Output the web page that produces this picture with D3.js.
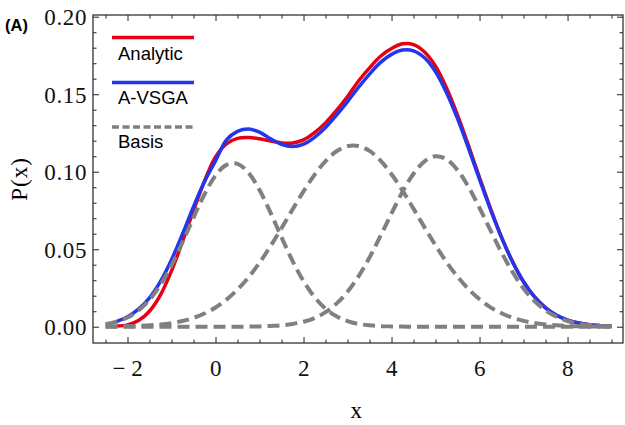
<!DOCTYPE html>
<html>
<head>
<meta charset="utf-8">
<script src="https://cdn.jsdelivr.net/npm/d3@7"></script>
<style>
  html, body { margin: 0; padding: 0; background: #fff; }
  svg { display: block; }
  .tick text { font-family: "Liberation Serif", "DejaVu Serif", serif; letter-spacing: 0.6px; }
</style>
</head>
<body>
<div id="chart"></div>
<script>
//
// DATA
//
// shared x grid, step 0.25
const xGrid = [-2.5, -2.25, -2, -1.75, -1.5, -1.25, -1, -0.75, -0.5, -0.25,
    0, 0.25, 0.5, 0.75, 1, 1.25, 1.5, 1.75, 2, 2.25, 2.5, 2.75, 3, 3.25, 3.5, 3.75,
    4, 4.25, 4.5, 4.75, 5, 5.25, 5.5, 5.75, 6, 6.25, 6.5, 6.75, 7, 7.25, 7.5, 7.75,
    8, 8.25, 8.5, 8.75, 9]

// analytic curve (red), starts at x = -2.25
const analytic = [null, 0.0005, 0.0012, 0.0040, 0.0100, 0.0205, 0.0360, 0.0550, 0.0750, 0.0940,
    0.1095, 0.1180, 0.1215, 0.1220, 0.1212, 0.1198, 0.1186, 0.1185, 0.1205, 0.1252, 0.1315, 0.1395,
    0.1485, 0.1585, 0.1670, 0.1745, 0.1795, 0.1825, 0.1820, 0.1772, 0.1680, 0.1540, 0.1365, 0.1168,
    0.0962, 0.0762, 0.0578, 0.0420, 0.0290, 0.0192, 0.0122, 0.0074, 0.0043, 0.0024, 0.0013, 0.0007, 0.0003]

// A-VSGA fit (blue)
const avsga = [null, 0.0033, 0.0064, 0.0113, 0.0186, 0.0292, 0.0432, 0.0598, 0.0775, 0.0935,
    0.1070, 0.1205, 0.1260, 0.1275, 0.1255, 0.1212, 0.1176, 0.1162, 0.1178, 0.1222, 0.1285, 0.1365,
    0.1452, 0.1545, 0.1630, 0.1705, 0.1757, 0.1785, 0.1780, 0.1735, 0.1645, 0.1510, 0.1342, 0.1150,
    0.0950, 0.0755, 0.0575, 0.0418, 0.0290, 0.0192, 0.0122, 0.0074, 0.0043, 0.0024, 0.0013, 0.0007, 0.0003]

// the three basis functions (grey dashed)
const basis1 = [0.0016, 0.0032, 0.0059, 0.0105, 0.0174, 0.0271, 0.0396, 0.0545, 0.0704, 0.0855,
    0.0975, 0.1044, 0.1051, 0.0993, 0.0882, 0.0736, 0.0577, 0.0425, 0.0294, 0.0191, 0.0117, 0.0067,
    0.0036, 0.0018, 0.0009, 0.0004, 0.0002, 0.0001, 0, 0, 0, 0, 0, 0,
    0, 0, 0, 0, 0, 0, 0, 0, 0, 0, 0, 0, 0]
const basis2 = [0.0001, 0.0002, 0.0003, 0.0005, 0.0009, 0.0014, 0.0023, 0.0037, 0.0057, 0.0085,
    0.0124, 0.0175, 0.0240, 0.0319, 0.0413, 0.0520, 0.0636, 0.0756, 0.0873, 0.0980, 0.1068, 0.1132,
    0.1165, 0.1166, 0.1134, 0.1071, 0.0984, 0.0878, 0.0761, 0.0641, 0.0525, 0.0417, 0.0323, 0.0242,
    0.0177, 0.0125, 0.0087, 0.0058, 0.0038, 0.0024, 0.0015, 0.0009, 0.0005, 0.0003, 0.0002, 0.0001, 0]
const basis3 = [0, 0, 0, 0, 0, 0, 0, 0, 0, 0,
    0, 0, 0, 0.0001, 0.0002, 0.0005, 0.0009, 0.0018, 0.0032, 0.0056, 0.0094, 0.0149,
    0.0225, 0.0325, 0.0447, 0.0586, 0.0731, 0.0871, 0.0987, 0.1067, 0.1100, 0.1080, 0.1010, 0.0901,
    0.0766, 0.0621, 0.0479, 0.0353, 0.0247, 0.0165, 0.0105, 0.0064, 0.0037, 0.0020, 0.0011, 0.0005, 0.0003]

// ticks
const xMajor = [-2, 0, 2, 4, 6, 8]
const xMinor = [-2.5, -1.5, -1, -0.5, 0.5, 1, 1.5, 2.5, 3, 3.5, 4.5, 5, 5.5, 6.5, 7, 7.5, 8.5, 9]
const yMajor = [0, 0.05, 0.1, 0.15, 0.2]
const yMinor = [0.01, 0.02, 0.03, 0.04, 0.06, 0.07, 0.08, 0.09, 0.11, 0.12, 0.13, 0.14,
    0.16, 0.17, 0.18, 0.19]

const legendItems = ['Analytic', 'A-VSGA', 'Basis']

//
// GLOBALS
//
const width = 625
const height = 425
const frame = { left: 93, right: 623, top: 15, bottom: 343 }
const red = '#e60012'
const blue = '#2236ee'
const grey = '#808080'

const svg = d3.select('#chart')
    .append('svg')
    .attr('width', width)
    .attr('height', height)

const x = d3.scaleLinear().domain([-2.784, 9.26]).range([frame.left, frame.right])
const y = d3.scaleLinear().domain([-0.0105, 0.2011]).range([frame.bottom, frame.top])

// frame
svg.append('rect')
    .attr('x', frame.left)
    .attr('y', frame.top)
    .attr('width', frame.right - frame.left)
    .attr('height', frame.bottom - frame.top)
    .attr('fill', 'none')
    .attr('stroke', '#333')
    .attr('stroke-width', 1.3)

// axes: ticks point inward on all four sides
const addAxis = (axisFn, scale, values, size, transform, labels, fmt) => {
    const g = svg.append('g')
        .attr('transform', transform)
        .call(axisFn(scale).tickValues(values).tickSize(-size).tickPadding(labels ? 14 : 0)
            .tickFormat(labels ? fmt : () => ''))
    g.select('.domain').remove()
    g.selectAll('.tick line').attr('stroke', '#333').attr('stroke-width', 1.1)
    g.selectAll('.tick text').attr('font-size', 23).attr('fill', '#111')
    return g
}
// minus sign with a small gap, like the reference
const xFmt = v => (v < 0 ? '\u2212\u2009' + Math.abs(v) : String(v))
const yFmt = d3.format('.2f')

const xAx = addAxis(d3.axisBottom, x, xMajor, 6, `translate(0,${frame.bottom})`, true, xFmt)
addAxis(d3.axisBottom, x, xMinor, 3.5, `translate(0,${frame.bottom})`, false)
addAxis(d3.axisTop, x, xMajor, 6, `translate(0,${frame.top})`, false)
addAxis(d3.axisTop, x, xMinor, 3.5, `translate(0,${frame.top})`, false)
const yAx = addAxis(d3.axisLeft, y, yMajor, 6, `translate(${frame.left},0)`, true, yFmt)
addAxis(d3.axisLeft, y, yMinor, 3.5, `translate(${frame.left},0)`, false)
addAxis(d3.axisRight, y, yMajor, 6, `translate(${frame.right},0)`, false)
addAxis(d3.axisRight, y, yMinor, 3.5, `translate(${frame.right},0)`, false)
yAx.selectAll('.tick text').attr('x', -6).attr('dy', '0.34em')
xAx.selectAll('.tick text').attr('y', 17)

// axis titles
svg.append('text')
    .attr('x', x(3.2))
    .attr('y', 418)
    .attr('text-anchor', 'middle')
    .attr('font-family', '"Liberation Serif", serif')
    .attr('font-size', 23)
    .text('x')

svg.append('text')
    .attr('transform', `translate(27,${(frame.top + frame.bottom) / 2}) rotate(-90)`)
    .attr('text-anchor', 'middle')
    .attr('font-family', '"Liberation Serif", serif')
    .attr('font-size', 23)
    .attr('letter-spacing', 1)
    .text('P(x)')

svg.append('text')
    .attr('x', 5)
    .attr('y', 31)
    .attr('font-family', '"Liberation Sans", Arial, sans-serif')
    .attr('font-weight', 'bold')
    .attr('font-size', 16.5)
    .text('(A)')

// curves
const line = d3.line()
    .defined(d => d[1] !== null)
    .x(d => x(d[0]))
    .y(d => y(d[1]))
    .curve(d3.curveCatmullRom)

const series = [
    { values: analytic, color: red, dash: null, w: 3.5 },
    { values: avsga, color: blue, dash: null, w: 3.5 },
    { values: basis1, color: grey, dash: '12,6', w: 4 },
    { values: basis2, color: grey, dash: '12,6', w: 4 },
    { values: basis3, color: grey, dash: '12,6', w: 4 }
]

series.forEach(s => {
    svg.append('path')
        .datum(xGrid.map((xv, i) => [xv, s.values[i]]))
        .attr('d', line)
        .attr('fill', 'none')
        .attr('stroke', s.color)
        .attr('stroke-width', s.w)
        .attr('stroke-dasharray', s.dash)
})

// legend
const legendStyle = [
    { color: red, dash: null, lineY: 37.5, textY: 60 },
    { color: blue, dash: null, lineY: 82.5, textY: 104 },
    { color: grey, dash: '7,3.5', lineY: 127, textY: 148 }
]
const legend = svg.append('g')
legendItems.forEach((name, i) => {
    const st = legendStyle[i]
    legend.append('line')
        .attr('x1', 112)
        .attr('x2', 194)
        .attr('y1', st.lineY)
        .attr('y2', st.lineY)
        .attr('stroke', st.color)
        .attr('stroke-width', 3.5)
        .attr('stroke-dasharray', st.dash)
    legend.append('text')
        .attr('x', 118)
        .attr('y', st.textY)
        .attr('font-family', '"Liberation Sans", Arial, sans-serif')
        .attr('font-size', 18.5)
        .attr('fill', '#000')
        .text(name)
})
</script>
</body>
</html>
